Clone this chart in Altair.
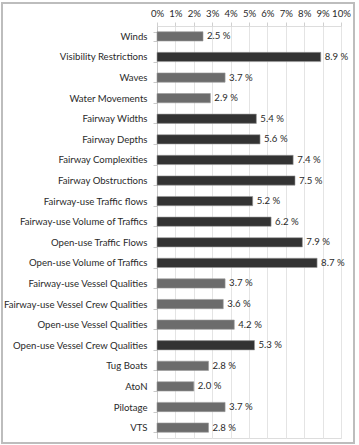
import altair as alt
import pandas as pd

factors = [
    "Winds", "Visibility Restrictions", "Waves", "Water Movements",
    "Fairway Widths", "Fairway Depths", "Fairway Complexities", "Fairway Obstructions",
    "Fairway-use Traffic flows", "Fairway-use Volume of Traffics",
    "Open-use Traffic Flows", "Open-use Volume of Traffics",
    "Fairway-use Vessel Qualities", "Fairway-use Vessel Crew Qualities",
    "Open-use Vessel Qualities", "Open-use Vessel Crew Qualities",
    "Tug Boats", "AtoN", "Pilotage", "VTS",
]
shares = [2.5, 8.9, 3.7, 2.9, 5.4, 5.6, 7.4, 7.5, 5.2, 6.2,
          7.9, 8.7, 3.7, 3.6, 4.2, 5.3, 2.8, 2.0, 3.7, 2.8]
x_ticks = list(range(0, 11))

df = pd.DataFrame({"factor": factors, "share": shares})
df["label"] = df["share"].map(lambda v: f"{v:.1f} %")
df["level"] = ["high" if v >= 5 else "low" for v in shares]

FONT = "Lato"
FS = 9.6
W, H = 184, 412

x_enc = alt.X(
    "share:Q", title=None,
    scale=alt.Scale(domain=[0, 10], nice=False),
    axis=alt.Axis(orient="top", values=x_ticks, labelExpr="datum.value + '%'",
                  labelFont=FONT, labelFontSize=FS, labelColor="#2a2a2a",
                  labelOverlap=False, labelFlush=False,
                  domain=False, tickColor="#d0d0d0", tickSize=4,
                  gridColor="#e4e4e4", labelPadding=4),
)

y_enc = alt.Y(
    "factor:N", sort=factors, title=None,
    scale=alt.Scale(paddingInner=0.55, paddingOuter=0.28),
    axis=alt.Axis(labelFont=FONT, labelFontSize=FS, labelColor="#2a2a2a",
                  domainColor="#c8c8c8", tickColor="#c8c8c8", tickSize=4,
                  tickBand="extent", labelPadding=6, grid=False, labelLimit=200),
)

bars = alt.Chart(df).mark_bar(stroke="#999", strokeWidth=0.6).encode(
    x=x_enc,
    y=y_enc,
    color=alt.Color("level:N", legend=None,
                    scale=alt.Scale(domain=["high", "low"], range=["#333333", "#6c6c6c"])),
)

labels = alt.Chart(df).mark_text(align="left", baseline="middle", dx=4,
                                 font=FONT, fontSize=FS, color="#2a2a2a").encode(
    x=x_enc, y=y_enc, text="label:N",
)

# outer frame around the whole figure
frame = alt.Chart(pd.DataFrame({"k": [0]})).mark_rect(
    fill=None, stroke="#bdbdbd", strokeWidth=2
).encode(x=alt.value(-155), x2=alt.value(W + 13), y=alt.value(-23), y2=alt.value(H + 5))

chart = alt.layer(bars, labels, frame).properties(
    width=W, height=H,
    autosize=alt.AutoSizeParams(type="none"),
    padding={"left": 157, "top": 26, "right": 18, "bottom": 7},
).configure_view(stroke=None).configure(background="white")

chart.save("out.html", embed_options={"renderer": "svg", "actions": False})
